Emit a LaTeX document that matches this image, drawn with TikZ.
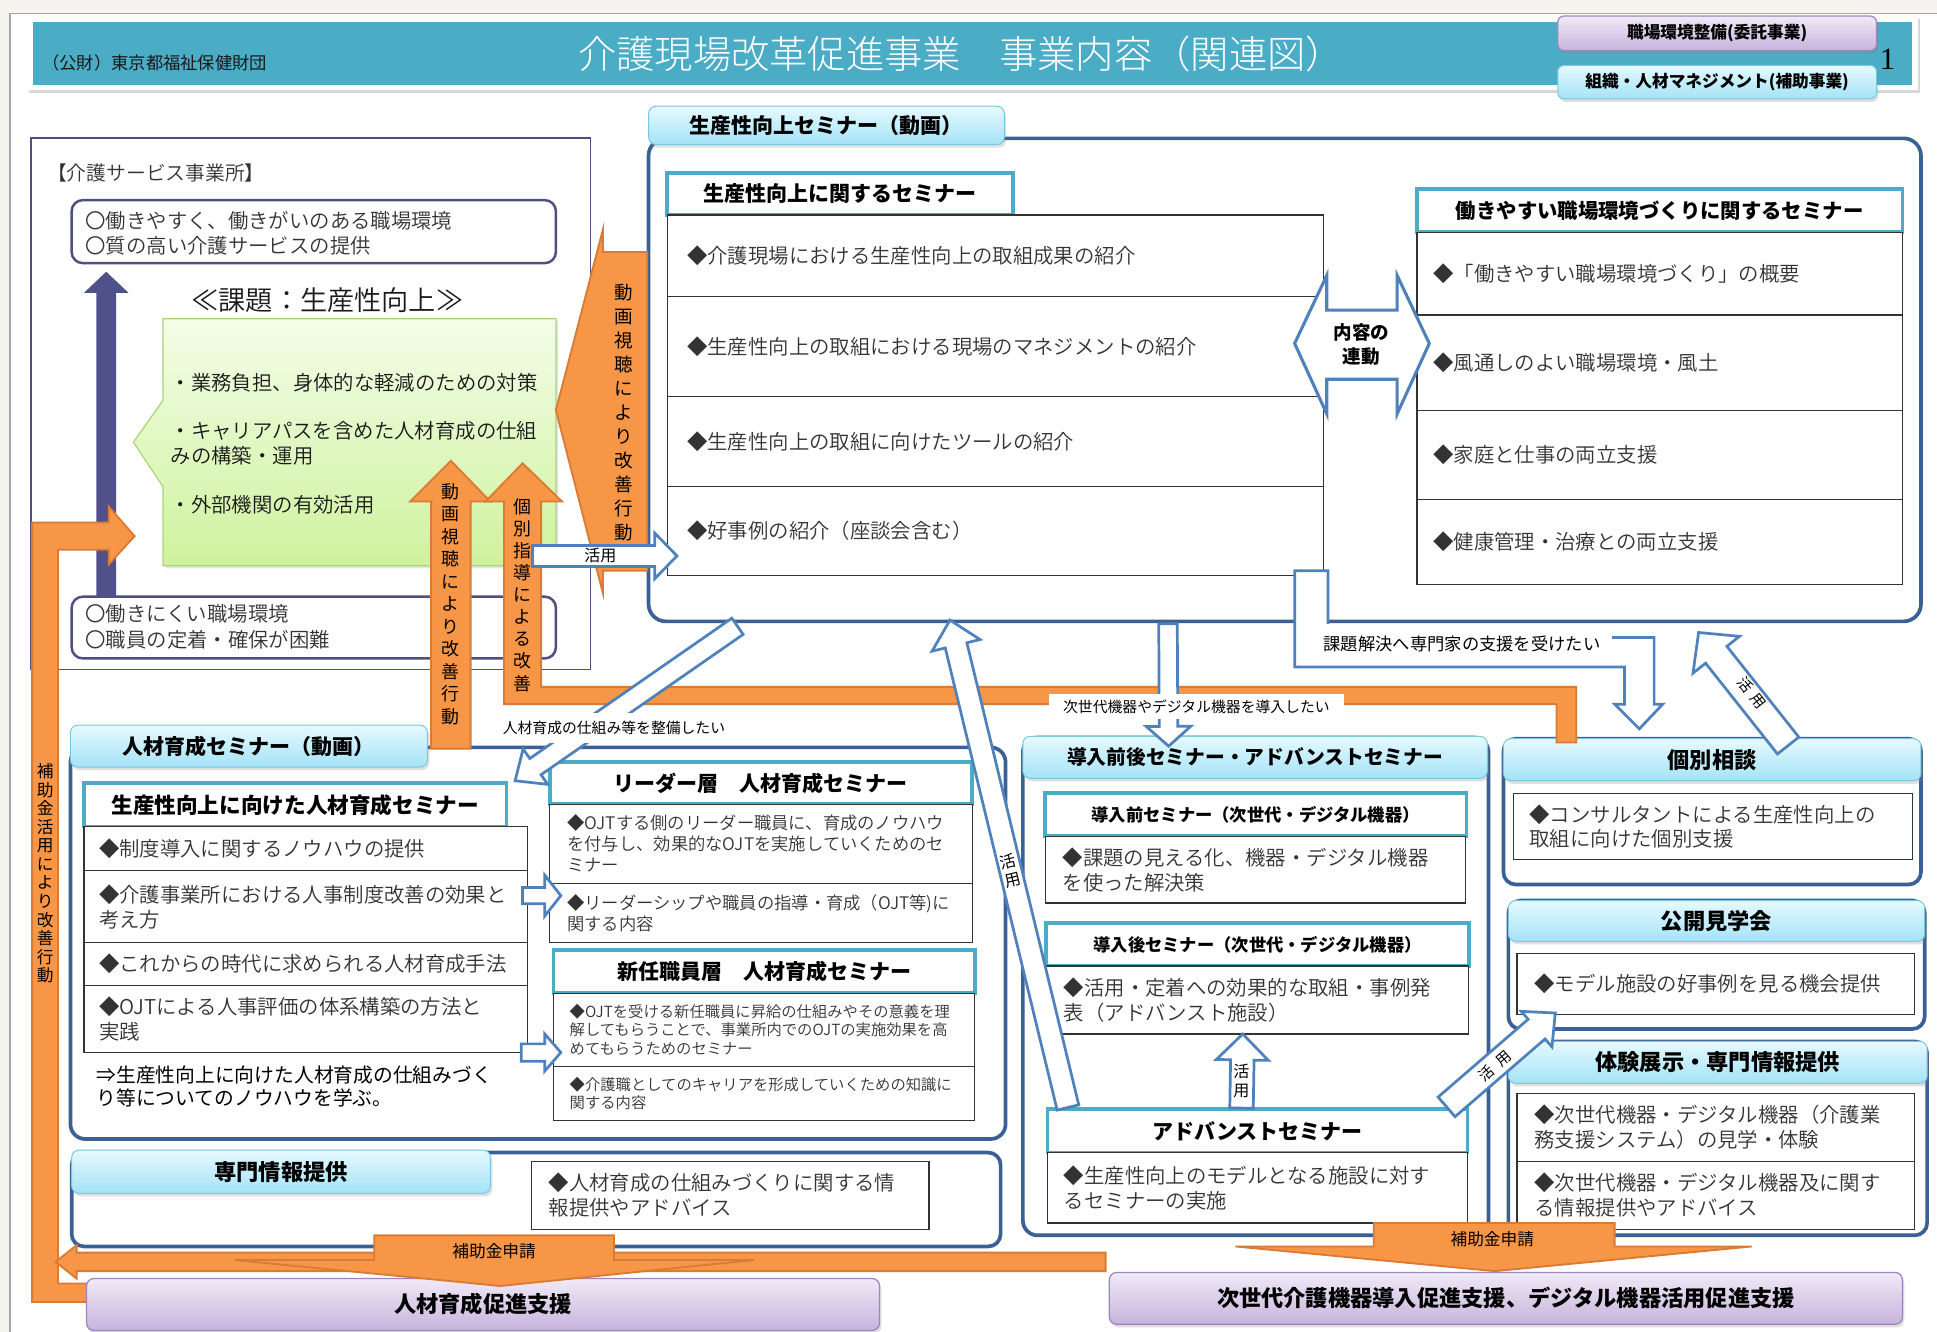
\documentclass[tikz,border=0pt]{standalone}
\usepackage{fontspec}
\setmainfont{Noto Sans CJK JP}
\newfontfamily\serifnum{Liberation Serif}
\newfontfamily\lightjp{Noto Sans CJK JP Light}
\newfontfamily\demijp{Noto Sans CJK JP DemiLight}
\usetikzlibrary{calc,shadows}
\definecolor{cTeal}{HTML}{4BACC6}
\definecolor{cBorder}{HTML}{3B6194}
\definecolor{cArrow}{HTML}{4F81BD}
\definecolor{cOrange}{HTML}{F79646}
\definecolor{cOrangeD}{HTML}{D97B35}
\definecolor{cPurArr}{HTML}{50508A}
\definecolor{cLeftBox}{HTML}{4F4F80}
\definecolor{cTxt}{HTML}{333333}
\definecolor{cTabTop}{HTML}{E6F9FE}
\definecolor{cTabBot}{HTML}{A4E3F7}
\definecolor{cTabLine}{HTML}{78C9E0}
\definecolor{cPurTop}{HTML}{F0EAF7}
\definecolor{cPurBot}{HTML}{C7B3DC}
\definecolor{cPurLine}{HTML}{9B86BD}
\definecolor{cGreenTop}{HTML}{F3FDE8}
\definecolor{cGreenBot}{HTML}{CFF29E}
\definecolor{cGreenLine}{HTML}{A8D47A}
\definecolor{cBg}{HTML}{F6F4EF}
\newcommand\fsz[2]{\fontsize{#1}{#2}\selectfont}
\newcommand\tbx[7]{\node[#6, minimum width={(#4)-(#2)}, minimum height={(#5)-(#3)}, inner sep=0pt, outer sep=0pt] (#1) at ({((#2)+(#4))/2},{((#3)+(#5))/2}) {#7};}
\newcommand\warr[6]{%
  \coordinate (waH) at ($(#3)!#6!(#2)$);
  \draw[#1] ($(#2)!#4!90:(#3)$) -- ($(waH)!#4!-90:(#2)$) -- ($(waH)!#5!-90:(#2)$) -- (#3) -- ($(waH)!#5!90:(#2)$) -- ($(waH)!#4!90:(#2)$) -- ($(#2)!#4!-90:(#3)$) -- cycle;}
\begin{document}
\begin{tikzpicture}[x=1pt,y=-1pt,
  cell/.style={draw=black!80, line width=0.9, fill=white},
  hdr/.style={draw=cTeal, line width=3, fill=white, font=\bfseries\fsz{17}{20}},
  tabst/.style={draw=cTabLine, line width=0.8, rounded corners=6, top color=cTabTop, bottom color=cTabBot, drop shadow={opacity=0.25, shadow xshift=1.5pt, shadow yshift=-2.5pt}, font=\bfseries\fsz{17}{20}},
  cont/.style={draw=cBorder, line width=3, rounded corners=12, fill=white},
  body/.style={anchor=west, inner sep=0pt, align=left, text=cTxt, font=\demijp\fsz{16.5}{20}},
  warrow/.style={draw=cArrow, line width=2.2, fill=white, line join=miter},
  orng/.style={fill=cOrange, draw=cOrangeD, line width=1.5, line join=miter},
  vtxt/.style={align=center, inner sep=0pt},
  purbox/.style={draw=cPurLine, line width=1, rounded corners=6, top color=cPurTop, bottom color=cPurBot, font=\bfseries\fsz{18}{21}, drop shadow={opacity=0.25, shadow xshift=1.5pt, shadow yshift=-2.5pt}},
  btnp/.style={purbox, font=\bfseries\fsz{13.5}{16}, rounded corners=5},
  btnc/.style={tabst, font=\bfseries\fsz{13.5}{16}, rounded corners=5},
  lbl/.style={fill=white, inner sep=0pt},
  wl/.style={inner sep=0pt, font=\fsz{13}{15}}]
\useasboundingbox (0,0) rectangle (1568,1078);
% background
\fill[cBg] (0,0) rectangle (1568,1078);
\fill[white] (8,11) rectangle (1568,1078);
\draw[black!35, line width=1.2] (8,1078) -- (8,11) -- (1568,11);
% title
\tbx{titleframe}{22}{13}{1553}{73}{fill=white, drop shadow={opacity=0.3, shadow xshift=1.5pt, shadow yshift=-2pt}}{}
\tbx{titlebar}{27}{18}{1548}{69}{fill=cTeal}{}
\node[anchor=west, inner sep=0pt, text=black!90, font=\fsz{14}{16}] (org) at (34,51) {（公財）東京都福祉保健財団};
\node[inner sep=0pt, text=white, font=\lightjp\fsz{31}{34}] (title) at (778,44) {介護現場改革促進事業　事業内容（関連図）};
\node[inner sep=0pt, font=\serifnum\fsz{25}{28}] (pnum) at (1528,48) {1};
\tbx{btnA}{1261}{13}{1519}{41}{btnp}{職場環境整備(委託事業)}
\tbx{btnB}{1261}{53}{1519}{80}{btnc}{組織・人材マネジメント(補助事業)}
% left box
\tbx{leftbox}{25}{112}{478}{542}{draw=cLeftBox, line width=1.5, fill=white}{}
\node[anchor=west, inner sep=0pt, font=\demijp\fsz{16}{19}, text=cTxt] (lbtitle) at (38,140) {【介護サービス事業所】};
\tbx{goodbox}{58}{162}{450}{213}{draw=cLeftBox, line width=2, rounded corners=9, fill=white}{}
\node[body] (goodtxt) at (69,189) {〇働きやすく、働きがいのある職場環境\\〇質の高い介護サービスの提供};
\tbx{badbox}{58}{483}{450}{533}{draw=cLeftBox, line width=2, rounded corners=9, fill=white}{}
\node[body, font=\demijp\fsz{16.5}{20.5}] (badtxt) at (69,507.5) {〇働きにくい職場環境\\〇職員の定着・確保が困難};
\fill[cPurArr] (78,483) -- (78,237) -- (68,237) -- (86,220) -- (104,237) -- (94,237) -- (94,483) -- cycle;
\node[inner sep=0pt, font=\demijp\fsz{22}{26}, text=black!90] (kadai) at (265,243) {≪課題：生産性向上≫};
\path[draw=cGreenLine, line width=1, top color=cGreenTop, bottom color=cGreenBot, drop shadow={opacity=0.2, shadow xshift=2pt, shadow yshift=-2pt}] (132,258) -- (450,258) -- (450,458) -- (132,458) -- (132,394) -- (108,358) -- (132,324) -- cycle;
\node[body, text=black!90] (g1) at (138,310) {・業務負担、身体的な軽減のための対策};
\node[body, text=black!90] (g2) at (138,359) {・キャリアパスを含めた人材育成の仕組\\みの構築・運用};
\node[body, text=black!90] (g3) at (138,409) {・外部機関の有効活用};
% main box
\tbx{mainbox}{525}{112}{1555}{503}{cont, rounded corners=14}{}
\tbx{maintab}{525}{86}{813}{117}{tabst}{生産性向上セミナー（動画）}
\tbx{hdrA}{540}{140}{820}{174}{hdr}{生産性向上に関するセミナー}
\tbx{ra1}{540}{174}{1071}{240}{cell}{}
\tbx{ra2}{540}{240}{1071}{321}{cell}{}
\tbx{ra3}{540}{321}{1071}{394}{cell}{}
\tbx{ra4}{540}{394}{1071}{466}{cell}{}
\node[body] (ta1) at ([xshift=16]ra1.west) {◆介護現場における生産性向上の取組成果の紹介};
\node[body] (ta2) at ([xshift=16]ra2.west) {◆生産性向上の取組における現場のマネジメントの紹介};
\node[body] (ta3) at ([xshift=16]ra3.west) {◆生産性向上の取組に向けたツールの紹介};
\node[body] (ta4) at ([xshift=16]ra4.west) {◆好事例の紹介（座談会含む）};
\tbx{hdrB}{1147}{153}{1540}{188}{hdr, font=\bfseries\fsz{16.5}{20}}{働きやすい職場環境づくりに関するセミナー}
\tbx{rb1}{1147}{188}{1540}{255}{cell}{}
\tbx{rb2}{1147}{255}{1540}{332}{cell}{}
\tbx{rb3}{1147}{332}{1540}{404}{cell}{}
\tbx{rb4}{1147}{404}{1540}{473}{cell}{}
\node[body] (tb1) at ([xshift=13]rb1.west) {◆「働きやすい職場環境づくり」の概要};
\node[body] (tb2) at ([xshift=13]rb2.west) {◆風通しのよい職場環境・風土};
\node[body] (tb3) at ([xshift=13]rb3.west) {◆家庭と仕事の両立支援};
\node[body] (tb4) at ([xshift=13]rb4.west) {◆健康管理・治療との両立支援};
\draw[warrow, line width=2.5] (1048,278) -- (1074,223) -- (1074,251) -- (1131,251) -- (1131,223) -- (1157,278) -- (1131,335) -- (1131,307) -- (1074,307) -- (1074,335) -- cycle;
\node[vtxt, font=\bfseries\fsz{15}{19}] (renko) at (1102,279) {内容の\\連動};
% human resources container
\tbx{hrcont}{57}{605}{814}{922}{cont}{}
\tbx{hrtab}{57}{587}{346}{621}{tabst}{人材育成セミナー（動画）}
\tbx{hdrC}{68}{634}{410}{669}{hdr, font=\bfseries\fsz{17.5}{20}}{生産性向上に向けた人材育成セミナー}
\tbx{rc1}{68}{669}{427}{705}{cell}{}
\tbx{rc2}{68}{705}{427}{763}{cell}{}
\tbx{rc3}{68}{763}{427}{798}{cell}{}
\tbx{rc4}{68}{798}{427}{852}{cell}{}
\node[body] (tc1) at ([xshift=12]rc1.west) {◆制度導入に関するノウハウの提供};
\node[body] (tc2) at ([xshift=12]rc2.west) {◆介護事業所における人事制度改善の効果と\\考え方};
\node[body] (tc3) at ([xshift=12]rc3.west) {◆これからの時代に求められる人材育成手法};
\node[body] (tc4) at ([xshift=12]rc4.west) {◆OJTによる人事評価の体系構築の方法と\\実践};
\node[body, text=black, font=\fsz{16}{19}] (hrnote) at (78,879.5) {⇒生産性向上に向けた人材育成の仕組みづく\\り等についてのノウハウを学ぶ。};
\tbx{hdrD}{445}{617}{787}{651}{hdr}{リーダー層　人材育成セミナー}
\tbx{rd1}{445}{651}{787}{715}{cell}{}
\tbx{rd2}{445}{715}{787}{763}{cell}{}
\node[body, font=\demijp\fsz{14}{17}] (td1) at ([xshift=14]rd1.west) {◆OJTする側のリーダー職員に、育成のノウハウ\\を付与し、効果的なOJTを実施していくためのセ\\ミナー};
\node[body, font=\demijp\fsz{14}{17}] (td2) at ([xshift=14]rd2.west) {◆リーダーシップや職員の指導・育成（OJT等)に\\関する内容};
\tbx{hdrE}{448}{769}{789}{804}{hdr}{新任職員層　人材育成セミナー}
\tbx{re1}{448}{804}{789}{863}{cell}{}
\tbx{re2}{448}{863}{789}{907}{cell}{}
\node[body, font=\demijp\fsz{12.4}{15}] (te1) at ([xshift=13]re1.west) {◆OJTを受ける新任職員に昇給の仕組みやその意義を理\\解してもらうことで、事業所内でのOJTの実施効果を高\\めてもらうためのセミナー};
\node[body, font=\demijp\fsz{12.4}{15}] (te2) at ([xshift=13]re2.west) {◆介護職としてのキャリアを形成していくための知識に\\関する内容};
% info container
\tbx{infocont}{58}{933}{810}{1009}{cont, rounded corners=10}{}
\tbx{infotab}{58}{931}{397}{966}{tabst, font=\bfseries\fsz{18}{21}}{専門情報提供}
\tbx{infobox}{430}{940}{752}{995}{cell}{}
\node[body] (tinfo) at ([xshift=14]infobox.west) {◆人材育成の仕組みづくりに関する情\\報提供やアドバイス};
% device container
\tbx{dcont}{828}{597}{1205}{1000}{cont}{}
\tbx{dtab}{828}{596}{1204}{630}{tabst, font=\bfseries\fsz{16}{19}}{導入前後セミナー・アドバンストセミナー}
\tbx{hdrF}{846}{642}{1187}{677}{hdr, font=\bfseries\fsz{14}{17}}{導入前セミナー（次世代・デジタル機器）}
\tbx{rf1}{846}{677}{1186}{731}{cell}{}
\node[body] (tf1) at ([xshift=14]rf1.west) {◆課題の見える化、機器・デジタル機器\\を使った解決策};
\tbx{hdrG}{847}{747}{1189}{782}{hdr, font=\bfseries\fsz{14}{17}}{導入後セミナー（次世代・デジタル機器）}
\tbx{rg1}{847}{782}{1189}{837}{cell}{}
\node[body] (tg1) at ([xshift=14]rg1.west) {◆活用・定着への効果的な取組・事例発\\表（アドバンスト施設）};
\tbx{hdrH}{848}{898}{1188}{933}{hdr}{アドバンストセミナー}
\tbx{rh1}{848}{933}{1188}{990}{cell}{}
\node[body] (th1) at ([xshift=13]rh1.west) {◆生産性向上のモデルとなる施設に対す\\るセミナーの実施};
% right column
\tbx{kcont}{1217}{598}{1555}{716}{cont, rounded corners=10}{}
\tbx{ktab}{1217}{598}{1555}{632}{tabst, font=\bfseries\fsz{18}{21}}{個別相談}
\tbx{kbox}{1225}{642}{1548}{696}{cell}{}
\node[body] (tk1) at ([xshift=13]kbox.west) {◆コンサルタントによる生産性向上の\\取組に向けた個別支援};
\tbx{pcont}{1221}{729}{1558}{833}{cont, rounded corners=10}{}
\tbx{ptab}{1221}{729}{1558}{762}{tabst, font=\bfseries\fsz{18}{21}}{公開見学会}
\tbx{pbox}{1228}{772}{1550}{821}{cell}{}
\node[body] (tp1) at ([xshift=14]pbox.west) {◆モデル施設の好事例を見る機会提供};
\tbx{tcont}{1221}{843}{1560}{1000}{cont, rounded corners=10}{}
\tbx{ttab}{1221}{843}{1560}{877}{tabst, font=\bfseries\fsz{18}{21}}{体験展示・専門情報提供}
\tbx{tbox1}{1228}{885}{1550}{940}{cell}{}
\tbx{tbox2}{1228}{940}{1550}{995}{cell}{}
\node[body] (tt1) at ([xshift=14]tbox1.west) {◆次世代機器・デジタル機器（介護業\\務支援システム）の見学・体験};
\node[body] (tt2) at ([xshift=14]tbox2.west) {◆次世代機器・デジタル機器及に関す\\る情報提供やアドバイス};
% orange shapes
\draw[orng] (26,1054) -- (26,423) -- (88,423) -- (88,410) -- (109,434) -- (88,457) -- (88,445) -- (47,445) -- (47,1039) -- (75,1039) -- (75,1054) -- cycle;
\node[vtxt, font=\fsz{13.5}{15}] (ltxt) at (36.5,707) {補\\助\\金\\活\\用\\に\\よ\\り\\改\\善\\行\\動};
\draw[orng] (450,332) -- (488,186) -- (488,204) -- (524,204) -- (524,462) -- (488,462) -- (488,480) -- cycle;
\node[vtxt, font=\fsz{15}{19.4}] (wtxt) at (505,334) {動\\画\\視\\聴\\に\\よ\\り\\改\\善\\行\\動};
\draw[orng] (349,606) -- (349,406) -- (332,406) -- (365,373) -- (397,406) -- (381,406) -- (381,606) -- cycle;
\node[vtxt, font=\fsz{14.5}{18.2}] (atxt) at (365,489) {動\\画\\視\\聴\\に\\よ\\り\\改\\善\\行\\動};
\draw[orng] (408,570) -- (408,406) -- (393,406) -- (423,375) -- (455,406) -- (438,406) -- (438,556) -- (1276,556) -- (1276,601) -- (1260,601) -- (1260,570) -- cycle;
\node[vtxt, font=\fsz{14.5}{17.9}] (btxt) at (423,481.5) {個\\別\\指\\導\\に\\よ\\る\\改\\善};
% bottom purple boxes
\tbx{hrsup}{70}{1035}{712}{1077}{purbox}{人材育成促進支援}
\tbx{nxsup}{898}{1030}{1540}{1072}{purbox}{次世代介護機器導入促進支援、デジタル機器活用促進支援}
\draw[orng] (895,1014) -- (895,1029) -- (62,1029) -- (62,1035) -- (45,1021.5) -- (62,1008) -- (62,1014) -- cycle;
\draw[orng] (303,1000) -- (497,1000) -- (497,1020) -- (610,1020) -- (405,1041) -- (190,1020) -- (303,1020) -- cycle;
\node[inner sep=0pt, font=\fsz{13.5}{15}] (s1t) at (400,1013) {補助金申請};
\draw[orng] (1112,990) -- (1307,990) -- (1307,1009) -- (1418,1009) -- (1210,1029) -- (1000,1009) -- (1112,1009) -- cycle;
\node[inner sep=0pt, font=\fsz{13.5}{15}] (s2t) at (1208,1003) {補助金申請};
% white arrows
\coordinate (u1s) at (431,450); \coordinate (u1e) at (548,450);
\warr{warrow}{u1s}{u1e}{8.5pt}{18.5pt}{18pt}
\node[wl] (u1t) at (486,450) {活用};
\coordinate (u2s) at (597,507); \coordinate (u2e) at (417,632);
\warr{warrow}{u2s}{u2e}{8pt}{17.5pt}{20pt}
\node[lbl, minimum width=186, minimum height=24, font=\fsz{12}{14}] (u2l) at (497,589.5) {人材育成の仕組み等を整備したい};
\coordinate (u3s) at (945.5,505); \coordinate (u3e) at (946,604);
\warr{warrow}{u3s}{u3e}{7.5pt}{18pt}{16pt}
\node[lbl, minimum width=239, minimum height=20, font=\fsz{12}{14}] (u3l) at (968.5,572) {次世代機器やデジタル機器を導入したい};
\draw[warrow] (1048,462) -- (1048,540) -- (1315,540) -- (1315,570) -- (1307,570) -- (1327,590) -- (1346,570) -- (1339,570) -- (1339,516) -- (1075,516) -- (1075,462) -- cycle;
\node[lbl, minimum width=243, minimum height=32, font=\fsz{14}{16}] (u4l) at (1183.5,521.5) {課題解決へ専門家の支援を受けたい};
\coordinate (u5s) at (1447.5,603.5); \coordinate (u5e) at (1375,512);
\warr{warrow}{u5s}{u5e}{11pt}{24pt}{23pt}
\node[wl, rotate=-51.6, font=\fsz{12}{14}] (u5t) at (1418,561) {活\hspace{5pt}用};
\coordinate (u6s) at (864.5,896.5); \coordinate (u6e) at (769,502);
\warr{warrow}{u6s}{u6e}{9pt}{20pt}{21pt}
\node[wl, vtxt, rotate=13.6, font=\fsz{13}{15}] (u6t) at (818,705) {活\\用};
\coordinate (u7s) at (1005,897); \coordinate (u7e) at (1006,837);
\warr{warrow}{u7s}{u7e}{9.5pt}{21pt}{21pt}
\node[wl, vtxt, font=\fsz{13}{16}] (u7t) at (1005,875) {活\\用};
\coordinate (u8s) at (1171,896); \coordinate (u8e) at (1259,820);
\warr{warrow}{u8s}{u8e}{10.5pt}{19pt}{20pt}
\node[wl, rotate=40.8, font=\fsz{12}{14}] (u8t) at (1210,863) {活\hspace{6.5pt}用};
\coordinate (u9s) at (423,725); \coordinate (u9e) at (454,725);
\warr{warrow}{u9s}{u9e}{6.5pt}{16.5pt}{13pt}
\coordinate (u10s) at (422,852); \coordinate (u10e) at (454,852);
\warr{warrow}{u10s}{u10e}{7pt}{15pt}{13pt}
\end{tikzpicture}
\end{document}
